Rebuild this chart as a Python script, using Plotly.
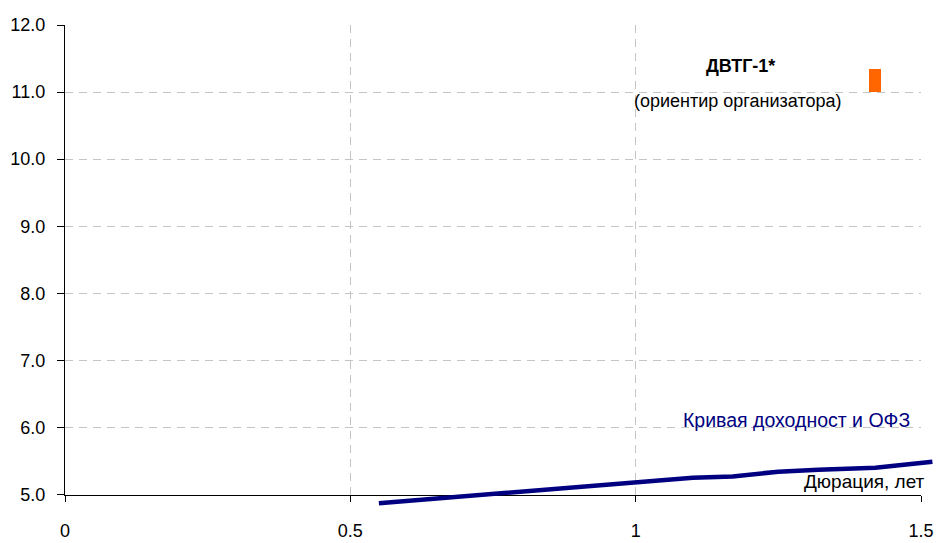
import plotly.graph_objects as go

# Yield curve of OFZ (duration, years -> yield, %)
ofz_duration = [0.55, 0.65, 0.75, 0.88, 1.00, 1.10, 1.17, 1.25, 1.32, 1.42, 1.52]
ofz_yield = [4.87, 4.94, 5.02, 5.10, 5.19, 5.25, 5.27, 5.34, 5.37, 5.40, 5.49]

# Issuer guidance (bar range)
dvtg_duration = [1.419]
dvtg_low = [11.0]
dvtg_span = [0.34]

x_ticks = [0, 0.5, 1, 1.5]
y_ticks = [5, 6, 7, 8, 9, 10, 11, 12]

FONT = "Liberation Sans, Arial, sans-serif"

W, H = 937, 543
ml, mr, mt, mb = 65, 0, 25, 31
plot_w = W - ml - mr
plot_h = H - mt - mb
x_right_px = 921
y_bottom_px = 494.5
x_dom_hi = (x_right_px - ml) / plot_w
y_dom_lo = (H - mb - y_bottom_px) / plot_h
px_per_x = (x_right_px - ml) / 1.5
px_per_y = (y_bottom_px - mt) / 7.0

fig = go.Figure()

fig.add_trace(go.Bar(
    x=dvtg_duration, y=dvtg_span, base=dvtg_low,
    width=12.3 / px_per_x,
    marker=dict(color="#FF6600", line=dict(width=0)),
    xaxis="x", yaxis="y", showlegend=False, hoverinfo="skip",
))

fig.add_trace(go.Scatter(
    x=ofz_duration, y=ofz_yield, mode="lines",
    line=dict(color="#000080", width=4.5),
    xaxis="x2", yaxis="y2", showlegend=False,
))

grid = dict(showgrid=True, gridcolor="#c4c4c4", griddash="8px,6px", gridwidth=1)

fig.update_layout(
    width=W, height=H,
    margin=dict(l=ml, r=mr, t=mt, b=mb, autoexpand=False),
    plot_bgcolor="rgba(0,0,0,0)", paper_bgcolor="white",
    font=dict(family=FONT, size=18, color="black"),
    xaxis=dict(
        domain=[0, x_dom_hi], range=[0, 1.5], anchor="y", automargin=False,
        tickvals=x_ticks, ticktext=[str(v) for v in x_ticks],
        showline=True, linecolor="black", linewidth=1.3,
        ticks="outside", ticklen=6, tickcolor="black",
        zeroline=False, ticklabelstandoff=14, **grid,
    ),
    yaxis=dict(
        domain=[y_dom_lo, 1], range=[5, 12], anchor="x", automargin=False,
        tickvals=y_ticks, tickformat=".1f",
        showline=True, linecolor="black", linewidth=1.3,
        ticks="outside", ticklen=7, tickcolor="black",
        zeroline=False, ticklabelstandoff=8, **grid,
    ),
    xaxis2=dict(
        domain=[0, 1], range=[0, 1.5 * plot_w / (x_right_px - ml)],
        anchor="y2", visible=False, showgrid=False, zeroline=False,
    ),
    yaxis2=dict(
        domain=[0, 1], range=[5 - (H - mb - y_bottom_px) / px_per_y, 12],
        anchor="x2", visible=False, showgrid=False, zeroline=False,
    ),
    bargap=0,
)

fig.add_annotation(x=1.484, y=6.11, xref="x", yref="y", text="Кривая доходност и ОФЗ",
                   showarrow=False, xanchor="right", yanchor="middle",
                   font=dict(family=FONT, size=19.5, color="#000080"))
fig.add_annotation(x=1.5, xshift=6, y=5.19, xref="x", yref="y", text="Дюрация, лет",
                   showarrow=False, xanchor="right", yanchor="middle",
                   font=dict(family=FONT, size=19, color="black"))
fig.add_annotation(x=1.183, y=11.39, xref="x", yref="y", text="<b>ДВТГ-1*</b>",
                   showarrow=False, xanchor="center", yanchor="middle",
                   font=dict(family=FONT, size=18, color="black"))
fig.add_annotation(x=1.179, y=10.87, xref="x", yref="y", text="(ориентир организатора)",
                   showarrow=False, xanchor="center", yanchor="middle",
                   font=dict(family=FONT, size=18, color="black"))

fig.write_html("out.html")
